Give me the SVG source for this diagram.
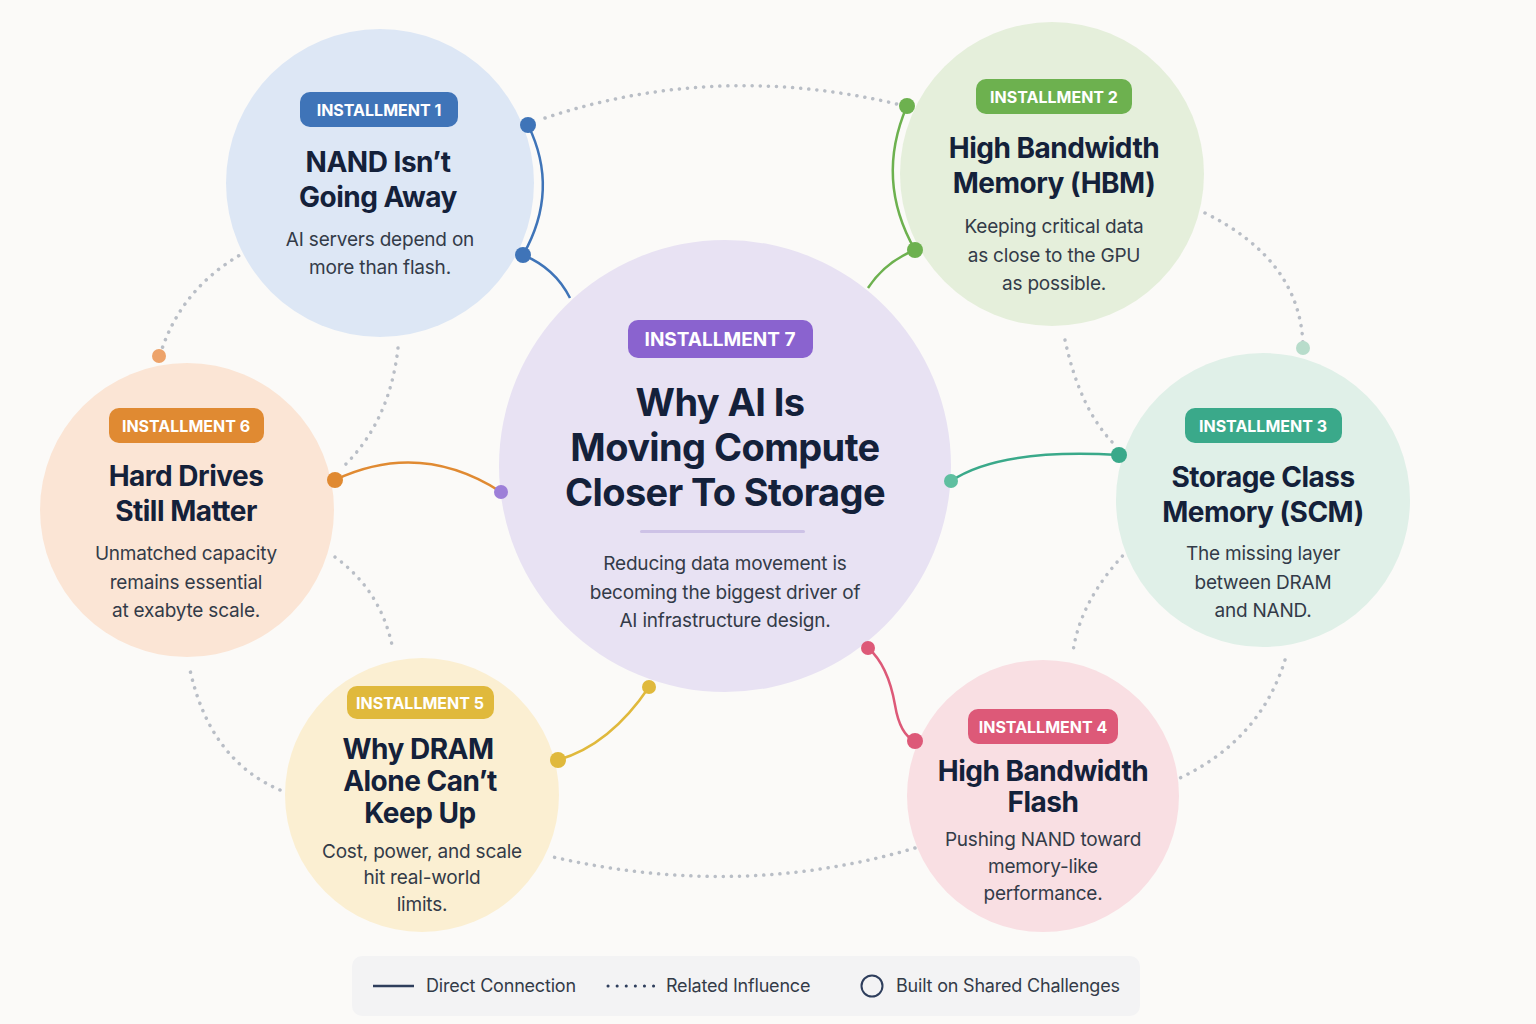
<svg xmlns="http://www.w3.org/2000/svg" width="1536" height="1024" viewBox="0 0 1536 1024">
<style>
text{font-family:Inter,"Noto Sans","Liberation Sans",sans-serif;text-anchor:middle}
.t{font-weight:700;fill:#14213a;font-size:28px;letter-spacing:-0.5px}
.big{font-size:38px;letter-spacing:-0.6px}
.d{fill:#333b48;font-size:19px;letter-spacing:-0.2px}
.b{fill:#fff;font-weight:700;font-size:16px}
.b7{font-size:19px}
.dot{fill:none;stroke:#b9bec6;stroke-width:3.5;stroke-dasharray:0.1 8;stroke-linecap:round}
.sol{fill:none;stroke-width:2.5}
.lg{fill:#333b48;font-size:18px;text-anchor:start;letter-spacing:-0.2px}
</style>
<rect width="1536" height="1024" fill="#fbfaf8"/>
<g id="connectors">
<path class="dot" d="M545 118 Q720 60 905 106"/>
<path class="dot" d="M1205 213 Q1300 260 1303 345"/>
<path class="dot" d="M1285 660 Q1260 740 1180 778"/>
<path class="dot" d="M915 848 Q740 900 553 857"/>
<path class="dot" d="M280 790 Q210 760 190 670"/>
<path class="dot" d="M160 355 Q180 290 240 255"/>
<path class="dot" d="M398 348 Q390 420 345 465"/>
<path class="dot" d="M1065 340 Q1080 410 1115 445"/>
<path class="dot" d="M1128 550 Q1080 600 1073 652"/>
<path class="dot" d="M335 557 Q380 590 392 645"/>
<path class="sol" stroke="#3f74b8" d="M528 125 Q560 190 523 255"/>
<path class="sol" stroke="#3f74b8" d="M523 255 Q555 268 570 298"/>
<path class="sol" stroke="#6db14f" d="M907 106 Q875 180 915 250"/>
<path class="sol" stroke="#6db14f" d="M915 250 Q885 262 868 288"/>
<path class="sol" stroke="#3aa98a" d="M951 481 Q1000 448 1119 455"/>
<path class="sol" stroke="#dd5978" d="M868 648 Q888 665 895 705 Q900 735 915 741"/>
<path class="sol" stroke="#e0b93c" d="M649 687 Q610 745 558 760"/>
<path class="sol" stroke="#e08a32" d="M335 480 Q420 440 501 492"/>
</g>
<g id="n7">
<circle cx="725" cy="466" r="226" fill="#e8e2f3"/>
<rect x="628" y="320" width="185" height="38" rx="10" fill="#8a63cf"/>
<text class="b b7" x="720" y="346">INSTALLMENT 7</text>
<text class="t big" x="720" y="416">Why AI Is</text>
<text class="t big" x="725" y="461">Moving Compute</text>
<text class="t big" x="725" y="506">Closer To Storage</text>
<rect x="640" y="530" width="165" height="3" rx="1.5" fill="#cdc2e6"/>
<text class="d" x="725" y="570">Reducing data movement is</text>
<text class="d" x="725" y="599">becoming the biggest driver of</text>
<text class="d" x="725" y="627">AI infrastructure design.</text>
<circle cx="501" cy="492" r="7" fill="#9d7fd8"/>
</g>
<g id="n1">
<circle cx="380" cy="183" r="154" fill="#dde7f5"/>
<rect x="300" y="92" width="158" height="35" rx="10" fill="#3f74b8"/>
<text class="b" x="379" y="116">INSTALLMENT 1</text>
<text class="t" x="378" y="172">NAND Isn’t</text>
<text class="t" x="378" y="207">Going Away</text>
<text class="d" x="380" y="246">AI servers depend on</text>
<text class="d" x="380" y="274">more than flash.</text>
<circle cx="528" cy="125" r="8" fill="#3f74b8"/>
<circle cx="523" cy="255" r="8" fill="#3f74b8"/>
</g>
<g id="n2">
<circle cx="1052" cy="174" r="152" fill="#e5efdb"/>
<rect x="976" y="79" width="156" height="35" rx="10" fill="#6db14f"/>
<text class="b" x="1054" y="103">INSTALLMENT 2</text>
<text class="t" x="1054" y="158">High Bandwidth</text>
<text class="t" x="1054" y="193">Memory (HBM)</text>
<text class="d" x="1054" y="233">Keeping critical data</text>
<text class="d" x="1054" y="262">as close to the GPU</text>
<text class="d" x="1054" y="290">as possible.</text>
<circle cx="907" cy="106" r="8" fill="#6db14f"/>
<circle cx="915" cy="250" r="8" fill="#6db14f"/>
</g>
<g id="n3">
<circle cx="1263" cy="500" r="147" fill="#e0f0e8"/>
<rect x="1185" y="408" width="157" height="35" rx="10" fill="#3aa98a"/>
<text class="b" x="1263" y="432">INSTALLMENT 3</text>
<text class="t" x="1263" y="487">Storage Class</text>
<text class="t" x="1263" y="522">Memory (SCM)</text>
<text class="d" x="1263" y="560">The missing layer</text>
<text class="d" x="1263" y="589">between DRAM</text>
<text class="d" x="1263" y="617">and NAND.</text>
<circle cx="1119" cy="455" r="8" fill="#3aa98a"/>
<circle cx="951" cy="481" r="7" fill="#5fbfa0"/>
<circle cx="1303" cy="348" r="7" fill="#b8dccb"/>
</g>
<g id="n4">
<circle cx="1043" cy="796" r="136" fill="#f9dfe3"/>
<rect x="968" y="709" width="150" height="35" rx="10" fill="#dd5978"/>
<text class="b" x="1043" y="733">INSTALLMENT 4</text>
<text class="t" x="1043" y="781">High Bandwidth</text>
<text class="t" x="1043" y="812">Flash</text>
<text class="d" x="1043" y="846">Pushing NAND toward</text>
<text class="d" x="1043" y="873">memory-like</text>
<text class="d" x="1043" y="900">performance.</text>
<circle cx="868" cy="648" r="7" fill="#dd5978"/>
<circle cx="915" cy="741" r="8" fill="#dd5978"/>
</g>
<g id="n5">
<circle cx="422" cy="795" r="137" fill="#fbefd2"/>
<rect x="347" y="686" width="147" height="33" rx="10" fill="#e0b93c"/>
<text class="b" x="420" y="709">INSTALLMENT 5</text>
<text class="t" x="418" y="759">Why DRAM</text>
<text class="t" x="420" y="791">Alone Can’t</text>
<text class="t" x="420" y="823">Keep Up</text>
<text class="d" x="422" y="858">Cost, power, and scale</text>
<text class="d" x="422" y="884">hit real-world</text>
<text class="d" x="422" y="911">limits.</text>
<circle cx="649" cy="687" r="7" fill="#e0b93c"/>
<circle cx="558" cy="760" r="8" fill="#e0b93c"/>
</g>
<g id="n6">
<circle cx="187" cy="510" r="147" fill="#fbe5d5"/>
<rect x="109" y="408" width="155" height="35" rx="10" fill="#e08a32"/>
<text class="b" x="186" y="432">INSTALLMENT 6</text>
<text class="t" x="186" y="486">Hard Drives</text>
<text class="t" x="186" y="521">Still Matter</text>
<text class="d" x="186" y="560">Unmatched capacity</text>
<text class="d" x="186" y="589">remains essential</text>
<text class="d" x="186" y="617">at exabyte scale.</text>
<circle cx="335" cy="480" r="8" fill="#e08a32"/>
<circle cx="159" cy="356" r="7" fill="#eda36a"/>
</g>
<g id="legend">
<rect x="352" y="956" width="788" height="60" rx="10" fill="#f3f3f4"/>
<line x1="373" y1="986" x2="414" y2="986" stroke="#2e3e5c" stroke-width="2.5"/>
<text class="lg" x="426" y="992">Direct Connection</text>
<line x1="608" y1="986" x2="654" y2="986" style="stroke:#2e3e5c;stroke-dasharray:0.1 9;stroke-width:3;stroke-linecap:round"/>
<text class="lg" x="666" y="992">Related Influence</text>
<circle cx="872" cy="986" r="10.5" fill="none" stroke="#2e3e5c" stroke-width="2"/>
<text class="lg" x="896" y="992">Built on Shared Challenges</text>
</g>
</svg>
